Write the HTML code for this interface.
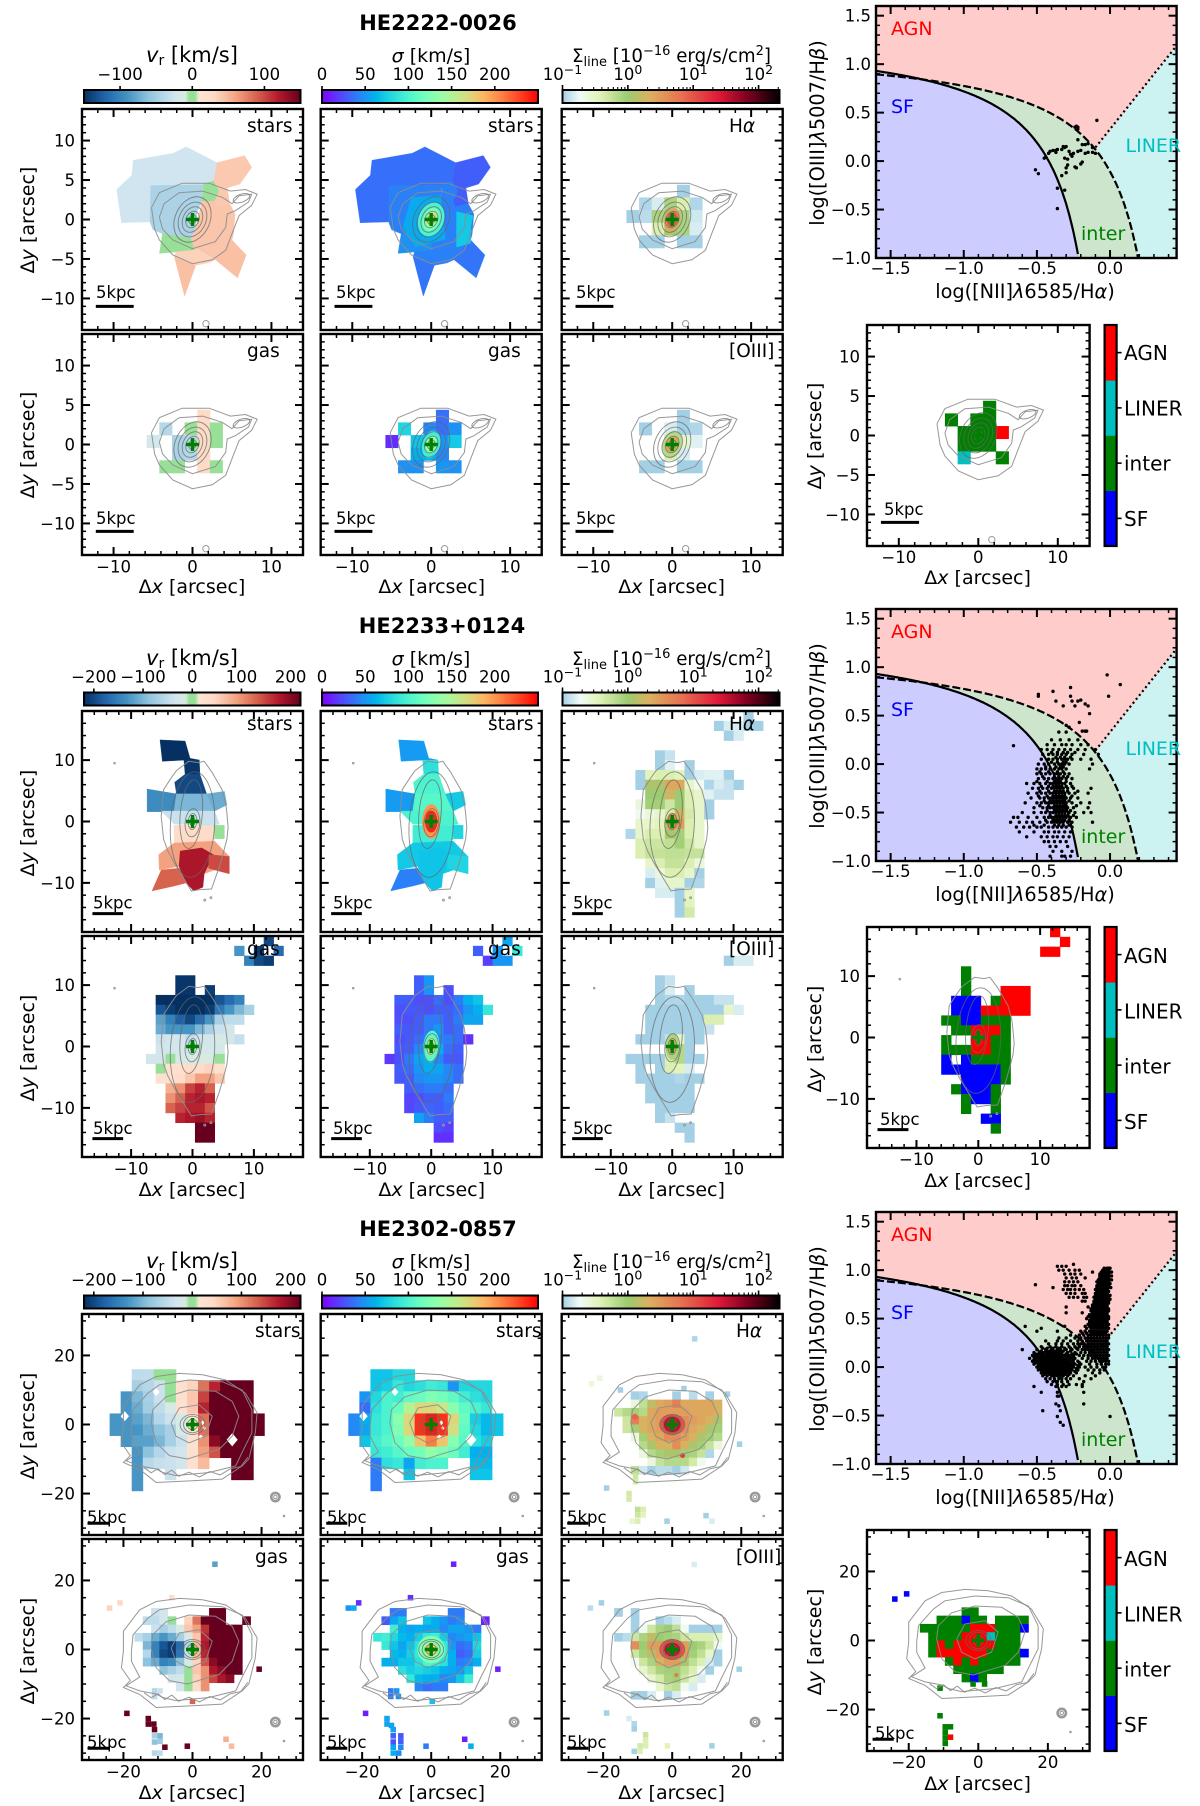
<!DOCTYPE html>
<html lang="en">
<head>
<meta charset="utf-8">
<title>AGN host galaxy kinematic maps</title>
<style>
html,body{margin:0;padding:0;background:#fff;width:1200px;height:1806px;overflow:hidden}
svg{display:block}
text{font-family:"DejaVu Sans","Liberation Sans",sans-serif;fill:#000}
.title{font-size:21px;font-weight:bold;text-anchor:middle}
.cbt{font-size:19px;text-anchor:middle}
.cbv{font-size:21px;text-anchor:middle}
.cbs{font-size:18.2px;text-anchor:middle}
.ax{font-size:19px;text-anchor:middle}
.bax{font-size:19.3px;text-anchor:middle}
.lab{font-size:18.5px}
.kpc{font-size:16.5px}
.cls{font-size:20px}
.reg{font-size:19px}
.tick{font-size:16.5px}
</style>
</head>
<body>
<svg id="figure" xmlns="http://www.w3.org/2000/svg" width="1200" height="1806" viewBox="0 0 1200 1806">
<g id="marks"></g>

<g>
<text class="title" x="438" y="30">HE2222-0026</text>
<text class="cbv" x="192" y="62"><tspan font-style="italic">v</tspan><tspan dy="3" font-size="14">r</tspan><tspan dy="-3"> [km/s]</tspan></text>
<text class="cbt" x="431" y="62"><tspan font-style="italic">σ</tspan> [km/s]</text>
<text class="cbs" x="671.5" y="62">Σ<tspan dy="4" font-size="13">line</tspan><tspan dy="-4"> [10</tspan><tspan dy="-7" font-size="13">−16</tspan><tspan dy="7"> erg/s/cm</tspan><tspan dy="-7" font-size="13">2</tspan><tspan dy="7">]</tspan></text>
<text class="lab" x="247" y="132">stars</text>
<text class="lab" x="488" y="132">stars</text>
<text class="lab" x="729" y="132">H<tspan font-style="italic">α</tspan></text>
<text class="lab" x="247" y="357">gas</text>
<text class="lab" x="488" y="357">gas</text>
<text class="lab" x="729" y="357">[OIII]</text>
<text class="kpc" x="96" y="298">5kpc</text>
<text class="kpc" x="336" y="298">5kpc</text>
<text class="kpc" x="576" y="298">5kpc</text>
<text class="kpc" x="96" y="524">5kpc</text>
<text class="kpc" x="336" y="524">5kpc</text>
<text class="kpc" x="576" y="524">5kpc</text>
<text class="kpc" x="884" y="515">5kpc</text>
<text class="ax" x="192" y="593">Δ<tspan font-style="italic">x</tspan> [arcsec]</text>
<text class="ax" x="431.7" y="593">Δ<tspan font-style="italic">x</tspan> [arcsec]</text>
<text class="ax" x="671.6" y="593">Δ<tspan font-style="italic">x</tspan> [arcsec]</text>
<text class="ax" x="977.6" y="584">Δ<tspan font-style="italic">x</tspan> [arcsec]</text>
<text class="ax" transform="translate(34,220) rotate(-90)">Δ<tspan font-style="italic">y</tspan> [arcsec]</text>
<text class="ax" transform="translate(34,445) rotate(-90)">Δ<tspan font-style="italic">y</tspan> [arcsec]</text>
<text class="ax" transform="translate(821,436) rotate(-90)">Δ<tspan font-style="italic">y</tspan> [arcsec]</text>
<text class="bax" x="1025" y="298">log([NII]<tspan font-style="italic">λ</tspan>6585/H<tspan font-style="italic">α</tspan>)</text>
<text class="bax" transform="translate(824,133) rotate(-90)">log([OIII]<tspan font-style="italic">λ</tspan>5007/H<tspan font-style="italic">β</tspan>)</text>
<text class="reg" x="891" y="35" style="fill:#ff0000">AGN</text>
<text class="reg" x="891" y="113" style="fill:#0000ff">SF</text>
<text class="reg" x="1125.5" y="152" style="fill:#00bfbf">LINER</text>
<text class="reg" x="1081" y="240" style="fill:#008000">inter</text>
<text class="cls" x="1124" y="360">AGN</text>
<text class="cls" x="1124" y="415.5">LINER</text>
<text class="cls" x="1124" y="470.5">inter</text>
<text class="cls" x="1124" y="526">SF</text>
</g>

<g transform="translate(0,603)">
<text class="title" x="442" y="30">HE2233+0124</text>
<text class="cbv" x="192" y="62"><tspan font-style="italic">v</tspan><tspan dy="3" font-size="14">r</tspan><tspan dy="-3"> [km/s]</tspan></text>
<text class="cbt" x="431" y="62"><tspan font-style="italic">σ</tspan> [km/s]</text>
<text class="cbs" x="671.5" y="62">Σ<tspan dy="4" font-size="13">line</tspan><tspan dy="-4"> [10</tspan><tspan dy="-7" font-size="13">−16</tspan><tspan dy="7"> erg/s/cm</tspan><tspan dy="-7" font-size="13">2</tspan><tspan dy="7">]</tspan></text>
<text class="lab" x="247" y="127">stars</text>
<text class="lab" x="488" y="127">stars</text>
<text class="lab" x="729" y="127">H<tspan font-style="italic">α</tspan></text>
<text class="lab" x="247" y="352">gas</text>
<text class="lab" x="488" y="352">gas</text>
<text class="lab" x="729" y="352">[OIII]</text>
<text class="kpc" x="93" y="305.5">5kpc</text>
<text class="kpc" x="333" y="305.5">5kpc</text>
<text class="kpc" x="573" y="305.5">5kpc</text>
<text class="kpc" x="93" y="531">5kpc</text>
<text class="kpc" x="333" y="531">5kpc</text>
<text class="kpc" x="573" y="531">5kpc</text>
<text class="kpc" x="880" y="522">5kpc</text>
<text class="ax" x="192" y="593">Δ<tspan font-style="italic">x</tspan> [arcsec]</text>
<text class="ax" x="431.7" y="593">Δ<tspan font-style="italic">x</tspan> [arcsec]</text>
<text class="ax" x="671.6" y="593">Δ<tspan font-style="italic">x</tspan> [arcsec]</text>
<text class="ax" x="977.6" y="584">Δ<tspan font-style="italic">x</tspan> [arcsec]</text>
<text class="ax" transform="translate(34,220) rotate(-90)">Δ<tspan font-style="italic">y</tspan> [arcsec]</text>
<text class="ax" transform="translate(34,445) rotate(-90)">Δ<tspan font-style="italic">y</tspan> [arcsec]</text>
<text class="ax" transform="translate(821,436) rotate(-90)">Δ<tspan font-style="italic">y</tspan> [arcsec]</text>
<text class="bax" x="1025" y="298">log([NII]<tspan font-style="italic">λ</tspan>6585/H<tspan font-style="italic">α</tspan>)</text>
<text class="bax" transform="translate(824,133) rotate(-90)">log([OIII]<tspan font-style="italic">λ</tspan>5007/H<tspan font-style="italic">β</tspan>)</text>
<text class="reg" x="891" y="35" style="fill:#ff0000">AGN</text>
<text class="reg" x="891" y="113" style="fill:#0000ff">SF</text>
<text class="reg" x="1125.5" y="152" style="fill:#00bfbf">LINER</text>
<text class="reg" x="1081" y="240" style="fill:#008000">inter</text>
<text class="cls" x="1124" y="360">AGN</text>
<text class="cls" x="1124" y="415.5">LINER</text>
<text class="cls" x="1124" y="470.5">inter</text>
<text class="cls" x="1124" y="526">SF</text>
</g>

<g transform="translate(0,1206)">
<text class="title" x="438" y="30">HE2302-0857</text>
<text class="cbv" x="192" y="62"><tspan font-style="italic">v</tspan><tspan dy="3" font-size="14">r</tspan><tspan dy="-3"> [km/s]</tspan></text>
<text class="cbt" x="431" y="62"><tspan font-style="italic">σ</tspan> [km/s]</text>
<text class="cbs" x="671.5" y="62">Σ<tspan dy="4" font-size="13">line</tspan><tspan dy="-4"> [10</tspan><tspan dy="-7" font-size="13">−16</tspan><tspan dy="7"> erg/s/cm</tspan><tspan dy="-7" font-size="13">2</tspan><tspan dy="7">]</tspan></text>
<text class="lab" x="255" y="131">stars</text>
<text class="lab" x="496" y="131">stars</text>
<text class="lab" x="736" y="131">H<tspan font-style="italic">α</tspan></text>
<text class="lab" x="255" y="357">gas</text>
<text class="lab" x="496" y="357">gas</text>
<text class="lab" x="736" y="357">[OIII]</text>
<text class="kpc" x="87" y="317">5kpc</text>
<text class="kpc" x="327" y="317">5kpc</text>
<text class="kpc" x="567" y="317">5kpc</text>
<text class="kpc" x="87" y="542">5kpc</text>
<text class="kpc" x="327" y="542">5kpc</text>
<text class="kpc" x="567" y="542">5kpc</text>
<text class="kpc" x="875" y="533">5kpc</text>
<text class="ax" x="192" y="593">Δ<tspan font-style="italic">x</tspan> [arcsec]</text>
<text class="ax" x="431.7" y="593">Δ<tspan font-style="italic">x</tspan> [arcsec]</text>
<text class="ax" x="671.6" y="593">Δ<tspan font-style="italic">x</tspan> [arcsec]</text>
<text class="ax" x="977.6" y="584">Δ<tspan font-style="italic">x</tspan> [arcsec]</text>
<text class="ax" transform="translate(34,220) rotate(-90)">Δ<tspan font-style="italic">y</tspan> [arcsec]</text>
<text class="ax" transform="translate(34,445) rotate(-90)">Δ<tspan font-style="italic">y</tspan> [arcsec]</text>
<text class="ax" transform="translate(821,436) rotate(-90)">Δ<tspan font-style="italic">y</tspan> [arcsec]</text>
<text class="bax" x="1025" y="298">log([NII]<tspan font-style="italic">λ</tspan>6585/H<tspan font-style="italic">α</tspan>)</text>
<text class="bax" transform="translate(824,133) rotate(-90)">log([OIII]<tspan font-style="italic">λ</tspan>5007/H<tspan font-style="italic">β</tspan>)</text>
<text class="reg" x="891" y="35" style="fill:#ff0000">AGN</text>
<text class="reg" x="891" y="113" style="fill:#0000ff">SF</text>
<text class="reg" x="1125.5" y="152" style="fill:#00bfbf">LINER</text>
<text class="reg" x="1081" y="240" style="fill:#008000">inter</text>
<text class="cls" x="1124" y="360">AGN</text>
<text class="cls" x="1124" y="415.5">LINER</text>
<text class="cls" x="1124" y="470.5">inter</text>
<text class="cls" x="1124" y="526">SF</text>
</g>
</svg>

<script>
/* ---------- tick arrays ---------- */
const velTicksA=[-100,0,100];
const velTicksB=[-200,-100,0,100,200];
const sigmaTicks=[0,50,100,150,200];
const fluxExponents=[-1,0,1,2];
const bptXTicks=[-1.5,-1,-0.5,0];
const bptYTicks=[-1,-0.5,0,0.5,1,1.5];

/* ---------- HE2222-0026 : Voronoi outlines (arcsec, flat x,y) and values ---------- */
const outlines1=[
[-9.6,3.8,-7.7,5.6,-7.5,7.5,-2.4,8.4,-.8,9.2,3.1,7.2,2.7,4.9,1.3,4,-5.3,4.3,-5.4,-.3,-9,-.4],
[-5.3,4.3,1.3,4.4,1.2,2.3,.6,1,.3,-1.5,-.2,-2.4,-3.8,-1.8,-5,-1.3,-5.4,-.3],
[1.4,4.5,2.7,4.9,3.4,3.6,2.8,2.3,1.2,2.3],
[3.1,7.2,6.6,8.1,7.5,6.6,6,4.5,4.4,4,4.7,2,3,1.6,2.8,2.3,3.4,3.6,2.7,4.9],
[1.2,2.3,2.8,2.3,3,1.6,4.7,2,5.4,.7,5.2,-1.8,5,-2.6,2.9,-5.1,.6,-3.7,.2,-3.9,-.2,-2.4,.3,-1.5],
[-2.3,-4.7,.4,-5.8,-1,-9.7],
[2.9,-5.1,5,-2.6,6.8,-4.5,5.7,-7.4],
[-3.8,-1.8,-.2,-2.4,.2,-3.9,-2.1,-4.1,-4.2,-4.3],
[.2,-3.9,.6,-3.7,2.9,-5.1,2,-5.5,.4,-5.8,-2.3,-4.7,-2.1,-4.1]];
const starVel1=[-24,-45,0,40,42,45,45,0,35];
const starSig1=[36,42,42,30,42,38,38,48,42];
const starSigExtra1=[
[72,3.2,1,5.3,.5,5,-1,5,-3,3.2,-3.5],
[58,-2.5,2.8,1.2,3,1.8,-2.5,-2,-3.5,-3.6,-1]];
const starSigCore1=[[0,0,1.6,2.2,20,100],[0,0,1,1.5,20,125],[0,.1,.6,.9,20,170]];
const grid1={x0:-5.8,y0:4.4,d:1.6};
const gasVel1=[[0,4,30],[1,1,-40,null,0,30,0],[2,0,-20,null,-45,-40,30,0],[3,2,-45,-40,30],[4,1,0,0,null,30,0]];
const gasSig1=[[0,4,36],[1,1,78,null,45,36,48],[2,0,14,null,70,70,50,72],[3,2,60,60,45],[4,1,48,48,null,50,48]];
const gasSigCore1=[[0,0,1.1,1.8,15,95],[0,0,.7,1.1,15,135]];
const halpha1=[[0,4,.1],[1,1,.11,.15,.8,.4,.11],[2,0,.1,.12,.8,1.2,.8,.14],[3,2,.4,1.2,.8,.15],[4,1,.1,.1,null,.1,.1]];
const halphaCore1=[[0,0,1,1.5,15,2.5],[0,0,.7,1,15,9]];
const oiii1=[[0,4,.1],[1,1,.1,null,.15,.1,.11],[2,3,.4,.3,.16],[3,3,.4,.15],[4,1,.1,.1,null,.1,.1]];
const oiiiCore1=[[0,0,1.2,1.8,15,.7],[0,0,.8,1.1,15,2.5]];
const classes1=[[0,4,1],[1,1,1,null,1,1],[2,2,1,1,1,3],[3,2,1,1,1],[4,2,2,null,null,1]];
const contoursPoly1=[
[-5.2,1.5,-4.2,3.4,-1.3,4.6,2.1,4.6,4.8,3.6,6.7,3.8,8.2,3.2,7.5,1.8,5.9,.5,5,-1.8,4.2,-3.9,2.5,-5.1,0,-5.6,-2.5,-4.5,-4.2,-2.6,-4.8,-1.2,-5.2,1.5],
[-4.2,.3,-3.6,2,-1.7,3.4,1.3,3.6,3.8,2.8,5,2,5.9,3,7.5,3.2,7.1,2.2,5.4,1.1,4.4,.7,4.2,-1,2.9,-2.8,0,-3.7,-2.5,-2.6,-3.8,-1.2,-4.2,.3]];
const contoursEll1=[[0,0,2.2,3,25],[0,0,1.7,2.3,25],[0,0,1.2,1.7,25],[0,0,.8,1.1,25],[0,0,.45,.6,25],[6.2,2.7,1.1,.5,-20]];
const rings1=[[1.7,-13.2,.4,1]];

/* ---------- HE2233+0124 ---------- */
const outlines2=[
[-5.3,13.3,-1.2,13.1,-.4,10.3,1.1,10,-1.4,10,-4.9,9.8],
[-1.4,10,1.1,10,1.2,7.7,-1.2,7.7],
[-1.2,7.7,1.2,7.7,2.3,4.5,-2.6,4.5,-2.9,6.4],
[-7.4,5.3,-2.6,4.5,-3,1.6,-7.4,1.6],
[-2.6,4.5,2.3,4.5,3.6,1.7,-3,1.6],
[2.3,4.5,5.2,4.9,5.6,2.7,3.6,1.7],
[-5.1,1.7,3.6,1.7,4.4,-.4,2.7,-.7,-3,-.4],
[3.4,-.6,5.2,-.6,5.2,-2.8,3.6,-2.8],
[-3,-.6,3.4,-.7,3.6,-2.9,1.5,-4.2,-3,-3.5],
[-5.5,-5.4,-3,-3.5,3.6,-3.2,6,-5.7,6,-8.5,3.6,-7.9,1.9,-8.5,-2.2,-7.3,-5.4,-7.9],
[-2,-4.8,1.5,-4.3,3.4,-5.4,1.9,-8.5,1.7,-10.7,.2,-11.3,-1.2,-9.8,-2.2,-7.3],
[-6.6,-11.3,-5.1,-7.9,-2.2,-7.6,-1,-10,-3,-10.5],
[2.7,-5.4,6,-5.7,6,-8.5,2.6,-7.6]];
const starVel2=[-220,-215,-200,-140,-100,-110,-40,0,40,90,180,130,145];
const starSig2=[52,85,100,52,105,72,100,78,95,72,70,42,78];
const starSigCore2=[[0,0,1.5,2.8,0,200],[0,0,1,1.8,0,240]];
const grid2={x0:-7.6,y0:11.6,d:1.6};
const gasVel2=[
[-4,12,-200],[-3,9,-130,null,-210,null,-170],[-2,10,-150,-200,-210],
[0,3,-215,-215],[1,3,-215,-215,null,-210],
[2,1,-220,-220,-220,-220,-220,-220,-190,-170,-150],
[3,1,-190,-210,-220,-220,-220,-210,-160,-130,-100,-70],
[4,1,-120,-150,-180,-200,-170,-130,-70,-50,-50],
[5,1,-110,-130,-130,-130,-100,-70,-40,-30],
[6,1,-40,-30,-30,-50,-30,-30,-20,-25,-45],
[7,1,-30,-30,-25,-30,-25,-25,-25],
[8,0,-30,-30,0,-20,-20,-15,-15,0],
[9,1,0,30,30,40,40,50,30],
[10,1,25,30,40,60,90,90,60],
[11,2,80,100,150,170,130],
[12,2,100,130,170,180,170],
[13,2,130,150,170,170,140],
[14,3,170,180,190,170],
[15,5,220,220],[16,5,220,220]];
const gasSig2=[
[-4,12,55],[-3,9,30,null,50,null,90],[-2,10,20,50,50],
[0,3,30,50],[1,3,30,50,null,25],
[2,1,30,30,25,25,35,25,40,60,70],
[3,1,25,28,28,25,30,30,35,50,60,90],
[4,1,25,25,30,40,40,30,40,55,55],
[5,1,30,28,30,40,50,30,35],
[6,1,25,28,35,45,45,40,35,15],
[7,1,28,30,45,60,60,35,30],
[8,0,18,25,40,55,60,45,28,28],
[9,1,30,35,50,60,55,45,35],
[10,1,28,30,45,50,50,45,35],
[11,2,30,35,40,40,35],
[12,2,22,25,30,30,40],
[13,2,22,28,32,30,35],
[14,3,55,40,30,30],
[15,5,25,20],[16,5,15,15]];
const gasSigCore2=[[0,0,1.3,2.6,5,105],[0,0,.8,1.5,5,150]];
const halpha2=[
[-4,12,.1],[-3,9,.1,.15,.15,.1,.1],[-2,10,.1,.15],
[0,3,.1,.13],[1,3,.1,.16,null,.1],
[2,1,.1,.35,.4,.4,.35,.1,.15,.16,.16,.1],
[3,1,.1,1.2,1.2,2.5,2.5,.3,.2,.11,.15,.13,.1],
[4,2,1,1,1.8,1,.4,.3,.16,.13,.13],
[5,1,.25,.9,.9,.5,1,.4,.3,.1],
[6,1,.2,.25,.3,.45,1.8,.45,.3,.1],
[7,1,.3,.3,.35,1.2,3,.4,.3],
[8,0,.11,.3,.4,.4,1.2,.9,.4,.3],
[9,1,.4,.5,.5,.6,.9,.5,.3],
[10,1,.4,.55,.55,.6,.6,.55,.55],
[11,2,.3,.4,.55,.55,.4,.25],
[12,2,.15,.25,.4,.4,.3,.1],
[13,2,.1,.16,.3,.3,.1,.11],
[14,3,.15,.15,.1,.3],
[15,5,.1,.35],[16,5,.1,.45]];
const halphaCore2=[[0,0,.9,1.4,0,4],[0,0,.45,.8,0,9]];
const oiii2=[
[-2,10,.1,.15,.15],
[0,3,.1,.13],[1,3,.1,.15,null,.1],
[2,3,.1,.11,.11,.1,.1,.1,.13,.13],
[3,2,.1,.1,.1,.1,.1,.1,.1,.1,.3,.15],
[4,2,.1,.1,.1,.1,.1,.1,.4,.4],
[5,2,.1,.1,.1,.1,.1,.1,.13],
[6,1,.1,.1,.1,.13,.3,.1,.1],
[7,4,.3,.7,.1],
[8,0,.1,.1,.1,.1,.4,.7,.1,.1],
[9,1,.1,null,.1,.4,.35,.15],
[10,1,.1,.1,.1,.1,.11,.1,.1],
[11,2,.1,.1,.1,.1,.1],
[12,2,.1,.1,.1,.1,.1],
[13,3,.1,.1,.1,.1],
[14,3,.1,.13],
[15,5,.1,.1],[16,6,.1]];
const oiiiCore2=[[0,0,1.1,2.2,0,.8],[0,0,.7,1.3,0,2]];
const classes2=[
[-4,12,3],[-3,13,3],[-2,11,3,3],
[0,3,1],[1,3,1],
[2,3,1,null,null,null,3,3,3],
[3,2,0,0,0,null,1,3,3,3],
[4,2,0,0,0,3,3,3,3,3],
[5,1,1,1,0,0,1,1,1],
[6,2,1,1,3,3,3,1],
[7,1,1,null,null,3,3,1,1],
[8,1,1,1,1,3,3,1,1],
[9,1,0,null,0,1,1,1,1],
[10,1,0,0,0,0,0,0,1],
[11,3,0,0,0,0,1],
[12,2,1,0,0,0,1],
[13,3,1,0,0,1],
[14,3,1,null,null,1],
[15,5,0,0],[16,6,1]];
const contoursPoly2=[
[-5.1,.8,-4.7,5.2,-3.4,7.2,-2.6,8.3,-1.4,9.2,-.6,9.8,.9,9.6,1.9,9.8,3.2,8,4.8,5.2,5.4,3,5.6,1.4,5.8,-1,5.6,-2.9,5,-5.2,4.4,-7.3,3.8,-9,3.1,-11,1.2,-11.1,-.2,-11.3,-1.6,-9,-3,-6.7,-4,-4.8,-4.7,-2.9,-5.1,.8]];
const contoursEll2=[[0,-.5,3.6,8.6,3],[-.2,1.2,1.8,5.6,5],[0,-.2,1.2,2.3,5],[0,0,.7,1.3,5],[0,0,.4,.7,5]];
const rings2=[[-12.7,9.5,.12,1],[3,-12.4,.15,1],[2,-12.8,.15,1]];

/* ---------- HE2302-0857 ---------- */
const starGrid3={x0:-24,y0:16,d:3.2};
const starVel3=[
[0,2,-50,-50,0,0],
[1,2,-70,-60,-40,0,30,50,120,170,220,220,220],
[2,1,-130,-100,-70,-40,0,30,60,150,220,220,220,220],
[3,1,-130,-110,-75,-50,-20,25,60,170,220,220,220,220],
[4,0,-130,-130,-120,-100,-60,-40,-20,20,120,220,220,220,220,220],
[5,0,-130,-130,-130,-110,-90,-70,-20,20,120,220,220,220,220,220],
[6,1,-130,-120,-120,-100,-70,-40,25,100,200,220,220,220],
[7,2,-130,-90,-60,-40,-30,25,90,140,220,220,220],
[8,2,-130,-55,-45,-40,-30,30,70,null,null,220,220],
[9,2,-130,null,null,-40,null,null,null,null,null,220,220],
[10,2,-130]];
const starSig3=[
[0,2,70,70,80,80],
[1,2,70,75,90,80,85,95,90,50,80,80,80],
[2,1,50,80,100,95,110,115,125,120,110,95,85,80],
[3,1,35,85,100,115,150,170,170,160,130,110,100,90],
[4,0,45,60,90,100,130,170,235,245,235,170,115,75,65,70],
[5,0,45,55,90,100,125,170,235,245,235,165,110,80,65,70],
[6,1,70,95,105,115,135,180,210,180,130,105,85,75],
[7,2,90,95,105,115,120,135,125,115,95,60,60],
[8,2,40,85,90,55,95,100,100,null,null,65,65],
[9,2,40,null,null,70,null,null,null,null,null,70,70],
[10,2,40]];
const starHoles3=[[11.5,-4.4,1.6],[2.9,.5,.6],[3.4,-1,.5],[2.4,-3.6,.6],[-19.6,2.4,1.2],[-10.5,9.4,1]];
const grid3={x0:-19.2,y0:12,d:2.4};
const gasVel3=[
[0,3,-40,-30,null,null,null,null,null,220,220],
[1,2,-50,-50,-30,0,null,50,120,220,220,220,null,null,220],
[2,3,-40,-70,-50,-20,60,90,160,220,220,220,220],
[3,1,-50,-70,-110,-130,-110,-70,-20,60,170,220,220,220,220],
[4,2,-100,-150,-190,-210,-170,-60,70,180,220,220,220,220],
[5,2,-60,-150,-200,-210,-160,-40,70,170,220,220,220,220],
[6,2,-90,-110,-150,-140,-90,-20,50,140,200,220,220,220],
[7,4,-90,-70,-50,0,60,100,180,200,220,220],
[8,5,-30,-25,0,50,100,150,180,200],
[9,6,-30,0,40,100]];
const gasVelSpots3=[[6.5,24.7,-120],[-24,12,50],[-21,13.5,45],[-6,15,35],[16,8.7,220],[19.3,-5.7,220],[-11,-12,-60],[-9.4,-12,-40],[-11,-13.6,-50],[0,-15,130],[-19,-18.5,220],[-12.8,-20,220],[-12.8,-21.6,220],[-11.2,-21.6,220],[-11,-23.2,220],[-11,-25,-70],[-9.4,-25,-100],[-9.4,-26.6,-80],[-11,-26.8,-90],[-8,-28.3,220],[-11,-30,-60],[-9.4,-30,-50],[-1.5,-28,220],[9.7,-26,80],[11.3,-28,70]];
const gasSig3=[
[0,3,40,40,null,null,null,null,null,40,40],
[1,2,30,55,70,null,null,70,60,50,40,45,null,null,10],
[2,3,95,60,55,60,55,60,45,55,55,50,40],
[3,1,90,95,80,65,60,75,90,95,75,45,50,55,70],
[4,2,90,70,55,70,85,150,170,90,50,35,40,80],
[5,3,65,60,75,90,150,170,95,60,30,35,75],
[6,2,60,60,70,70,85,100,95,85,60,40,45,60],
[7,4,85,75,80,75,70,60,55,50,70],
[8,5,90,65,60,60,45,50,70,95],
[9,6,45,35,40,40]];
const gasSigSpots3=[[6.5,24.7,10],[-6,15,15],[-21,13.5,15],[-24,12,50],[-22.4,12,60],[16,8.7,10],[19.3,-5.7,10],[-11.7,-12,40],[-10,-12,50],[-11.7,-13.6,40],[-9.5,-13.6,48],[.3,-15,70],[-19,-18.5,10],[-12.8,-20,55],[-12.8,-21.6,55],[-11.5,-22,55],[-11,-23.2,55],[-11,-25,30],[-8.8,-25,28],[-8.8,-26.6,30],[-11,-26.8,25],[-8.8,-28.3,45],[-11,-28.3,58],[-11,-30,60],[-9.4,-30,45],[-1.5,-28,40],[9.7,-26,10],[11.5,-28,60]];
const gasSigCore3=[[0,0,4,4,0,125],[0,0,2,2,0,170]];
const halpha3=[
[1,3,.1,.11,null,null,null,.1,null,.12,null,.1],
[2,3,.25,.6,1.5,2.5,3,5,2.5,2.5,2.5,2.5,2],
[3,1,.5,.7,.9,.7,2.5,3,3,3,3,2.5,2.5,2.5,2],
[4,2,.5,5,2,2.5,3,15,20,4,3,2.5,2,1.2],
[5,2,.5,.9,2,2.5,3,25,30,4,2.5,2,1.2,.9],
[6,3,.25,.9,2,2.5,4,4,3,2,1.2,.9,.7],
[7,4,.7,1.2,2,2,4,2,1.2,.9,.55,.25],
[8,4,.25,.7,.9,1.2,1.2,.9,.8,.55,.11],
[9,5,.25,.55,.7,.7,.7,.45,.2],
[10,3,.6,.14,.1,.12,.12,.1,.14]];
const halphaSpots3=[[6.5,24.8,.11],[-23.4,11.8,.25],[-21,13.4,.25],[16,8.8,.1],[-15,10,.1],[3.4,10.4,.1],[19.5,-5.7,.1],[-19,-18.4,.1],[-12.5,-20,.45],[-12.5,-21.6,.45],[-10,-24.6,.6],[-8.4,-24.6,.4],[-10,-26.2,.5],[-8.4,-26.2,.35],[-10,-28,.4],[-11.6,-28,.3],[-1.5,-28,.1],[9.8,-26.4,.1],[11.5,-28,.15],[-10.6,-15,.5],[-10.6,-16.6,.45]];
const halphaCore3=[[0,0,3.6,3,0,10],[0,0,2.4,2.2,0,35],[-10.8,2.2,.9,.9,0,8],[3,-9,.7,.7,0,15]];
const oiii3=[
[0,1,.1,null,.1],
[1,3,.1,null,null,.1,.12,.15],
[2,3,.1,.2,.5,.8,1,.6,.2,.1,.1,.1,.1],
[3,1,.1,.12,.5,.8,1.5,1,.9,.8,.5,.4,.4,.4,.3],
[4,3,4,1,3,3,15,20,3,1,.8,.5,.2],
[5,3,.5,.9,1.5,3,30,30,3,.9,.6,.3,.1],
[6,3,.2,.5,.8,2,3,3,1.2,.6,.4,.15,.1],
[7,4,.3,.5,.8,.9,.9,.6,.4,.2,.1],
[8,5,.3,.45,.8,.9,.5,.3,.15],
[9,6,.3,.5,.6,.2,.15],
[10,3,.1,.1,.15,null,.1,.15]];
const oiiiSpots3=[[6.4,24.6,.15],[-23.7,12,.12],[-20.5,13.5,.1],[19.4,-5.7,.1],[-19,-18.4,.1],[-12.5,-20,.15],[-11,-21.5,.11],[-11,-23,.1],[-7.7,-24.7,.5],[-7.7,-26.3,.4],[-9.3,-27.9,.45],[-7.7,-27.9,.4],[-9.3,-29.5,.4],[-11,-29.5,.1],[-1.4,-27.9,.35],[11.5,-27.9,.1]];
const oiiiCore3=[[0,0,3.6,3,0,10],[0,0,2.3,2,0,35],[1.2,-7.4,.6,.6,0,6]];
const classes3=[
[1,6,1,1],
[2,3,1,1,1,0,1,1,null,1,1,1,1],
[3,1,1,1,1,1,1,1,3,3,3,1,1,1,0],
[4,2,1,1,1,1,3,3,3,2,1,1,1],
[5,2,1,3,1,3,3,3,3,3,1,1,1],
[6,2,1,3,3,3,3,3,3,1,1,1,1,0],
[7,4,1,3,1,3,1,1,1,1,1],
[8,5,1,1,1,1,1,1],
[9,6,1,0,1]];
const classSpots3=[[-24,12,0],[-20.6,13.5,0],[-11,-13.8,1],[-11,-21.8,1],[-9.5,-25,1],[-9.5,-26.6,1],[-9.5,-28.2,1],[-9.5,-29.8,1],[-8,-25,1],[-8,-28,3],[-1.5,-12.6,1],[1.8,-12.6,1]];
const contoursPoly3=[
[-20,-.5,-20,5.3,-15.3,11.5,-10.5,13.9,-3.8,14.8,2.9,14.4,9.6,12.9,15.3,9.1,18.7,3.4,18.2,-2.4,16.3,-10,14.4,-12,8.6,-15.8,0,-16.3,-10.5,-16.8,-12.4,-15.3,-15.3,-13,-20,-11,-18,-9,-20.6,-5.3,-20,-.5],
[-17.7,-.5,-17.2,4.3,-12.9,9.1,-9.6,11.5,-1,12.9,8.6,12.4,14.4,10,17.2,4.3,17.2,-2.4,14.4,-8,12.5,-12,4.8,-13.9,-4.8,-14.8,-8.6,-13.9,-10.5,-12.9,-15.3,-12,-19.2,-10.5,-15.3,-8,-17.7,-3.4,-17.7,-.5],
[-12,.5,-11.5,4.3,-7.7,8,-1,10,6.7,9.6,11.5,6.7,13.4,2.4,11.5,-3.4,7.7,-7.2,2.9,-8.6,-1.4,-10,-6.7,-9,-10.5,-5.3,-12,.5],
[-6.2,.5,-3.8,4.8,1.9,5.7,5.7,2.4,3.8,-3.4,-1,-5.3,-4.8,-3.4,-6.2,.5],
[-14,-12.5,-12,-14,-10,-12.8,-8,-14.5,-6,-13.2,-4,-15,-1,-13.8,2,-15.2,5,-13.6,8,-14.6,11,-12.8,14,-12.2,16,-9.5]];
const contoursEll3=[[0,0,3.6,2.9,0],[0,0,2.6,2.4,0],[0,0,1.5,1.5,0],[0,0,.8,.8,0]];
const rings3=[[24,-21,1.2,2.6],[24,-21,.5,1],[26.5,-26.5,.12,1]];

/* ---------- BPT point rows: first number log[OIII]/Hb, remaining numbers log[NII]/Ha ---------- */
const bptRows1=[
[.42,-.09],[.36,-.23],[.35,-.24,-.22],[.33,-.22],[.22,-.22],[.18,-.15],[.17,-.19,-.17],[.15,-.32,-.3],[.14,-.31,-.12],
[.12,-.36,-.33],[.11,-.39,-.37,-.2],[.1,-.41,-.28,-.22],[.09,-.37,-.15,-.12],[.08,-.42,-.25,-.17,-.1],[.07,-.27],[.05,-.26],[.04,-.44],[.03,-.45,-.31],[.02,-.29],
[-.01,-.19],[-.03,-.2],[-.04,-.29],[-.06,-.24],[-.07,-.3,-.23],[-.09,-.51],[-.12,-.3],[-.13,-.49],[-.15,-.33],[-.28,-.36],[-.3,-.31],[-.49,-.36]];
const bptRows2=[
[.92,-.02],[.82,.07],[.79,-.27],[.75,-.39],[.72,-.49],[.7,-.49,-.27,-.01],[.66,-.2],[.65,-.37,-.26,-.22],[.62,-.17],[.6,-.32,-.24,-.15],[.52,-.14],[.43,-.21],[.4,-.3],[.38,-.28],[.34,-.19,-.17,-.16],
[.33,-.35,-.3],[.25,-.4,-.34,-.28,-.22],[.2,-.43,-.38,-.33,-.3,-.26,-.2,-.15],[.19,-.66],[.15,-.47,-.43,-.39,-.35,-.31,-.27,-.22,-.17,-.1],[.12,-.4,-.36,-.32,-.29,-.24],[.1,-.46,-.42,-.39,-.36,-.33,-.3,-.26,-.18,-.08],
[.07,-.37,-.34,-.31,-.27],[.05,-.47,-.42,-.39,-.36,-.33,-.31,-.29,-.26,-.2,-.13],[.02,-.4,-.36,-.32,-.3],[0,-.49,-.45,-.42,-.38,-.35,-.33,-.31,-.28,-.12],[-.03,-.44,-.37,-.34,-.32],[-.05,-.5,-.47,-.44,-.41,-.38,-.35,-.33,-.3,-.14],
[-.08,-.48,-.42,-.36,-.32],[-.1,-.5,-.47,-.44,-.41,-.38,-.36,-.34,-.31,-.28],[-.13,-.46,-.38,-.35,-.32,-.29],[-.15,-.49,-.45,-.42,-.39,-.37,-.35,-.33,-.3,-.26],[-.18,-.5,-.43,-.38,-.36,-.34,-.3],[-.2,-.57,-.52,-.48,-.44,-.41,-.39,-.37,-.35,-.33,-.31,-.27],
[-.23,-.47,-.42,-.39,-.37,-.35,-.33,-.3,-.26],[-.25,-.53,-.49,-.46,-.43,-.4,-.38,-.36,-.34,-.32,-.29,-.25,-.13],[-.28,-.48,-.42,-.38,-.36,-.34,-.32,-.29,-.22],[-.3,-.56,-.5,-.47,-.44,-.41,-.39,-.37,-.35,-.33,-.31,-.28,-.24,-.15],
[-.33,-.49,-.43,-.39,-.37,-.35,-.33,-.31,-.26],[-.35,-.54,-.48,-.45,-.42,-.4,-.38,-.36,-.34,-.32,-.3,-.27,-.22],[-.38,-.45,-.41,-.39,-.37,-.35,-.33,-.31,-.28],[-.4,-.58,-.5,-.47,-.44,-.42,-.4,-.38,-.36,-.34,-.32,-.3,-.26,-.2,-.14],
[-.43,-.48,-.42,-.38,-.36,-.34,-.32,-.3,-.23],[-.45,-.52,-.46,-.43,-.41,-.39,-.37,-.35,-.33,-.31,-.29,-.25,-.15],[-.48,-.43,-.38,-.36,-.34,-.32,-.3,-.27],[-.5,-.6,-.52,-.47,-.44,-.41,-.39,-.37,-.35,-.33,-.31,-.28,-.24,-.18,-.13],
[-.53,-.41,-.37,-.35,-.33,-.31,-.29,-.25],[-.55,-.66,-.63,-.56,-.5,-.45,-.42,-.4,-.38,-.36,-.34,-.32,-.3,-.27,-.23],[-.58,-.44,-.39,-.37,-.35,-.33,-.31,-.28],[-.6,-.68,-.62,-.57,-.53,-.48,-.43,-.4,-.38,-.36,-.34,-.32,-.29,-.26,-.12],
[-.63,-.52,-.45,-.38,-.35,-.32,-.28],[-.65,-.64,-.59,-.55,-.5,-.47,-.42,-.39,-.36,-.33,-.3,-.26],[-.7,-.62,-.52,-.45,-.42,-.38,-.35,-.31,-.27],[-.75,-.57,-.47,-.43,-.39,-.36,-.32,-.28],
[-.8,-.45,-.42,-.38,-.34,-.3],[-.85,-.41,-.37,-.29],[-.9,-.39,-.33,-.26],[-.95,-.41,-.33,-.31,-.27]];
const bptRows3=[
[1.06,-.25],[1.04,-.36,-.33,-.3],[1.02,-.04,-.02,-.01,0],[1,-.35,-.32,-.28,-.24,-.21,-.05,-.03,-.01],[.98,-.12,-.06,-.04,-.02,0,.01],[.96,-.31,-.27,-.24,-.2,-.07,-.05,-.03,-.01],[.94,-.07,-.05,-.03,-.01,.01],
[.92,-.3,-.26,-.23,-.17,-.07,-.05,-.03,-.01],[.9,-.08,-.06,-.04,-.02,0,.01],[.88,-.31,-.28,-.25,-.22,-.09,-.07,-.05,-.03,-.01],[.86,-.08,-.06,-.04,-.02,0],[.85,-.51],[.84,-.31,-.29,-.26,-.24,-.2,-.09,-.07,-.05,-.03,-.01],[.82,-.39,-.09,-.07,-.05,-.03,-.01,.005],
[.8,-.32,-.29,-.27,-.24,-.21,-.18,-.1,-.08,-.06,-.04,-.02],[.78,-.09,-.07,-.05,-.03,-.01],[.76,-.3,-.27,-.24,-.19,-.17,-.1,-.08,-.06,-.04,-.02],[.74,-.1,-.08,-.06,-.04,-.02,0],[.72,-.28,-.25,-.22,-.18,-.16,-.11,-.09,-.07,-.05,-.03,-.01],[.7,-.1,-.08,-.06,-.04,-.02,0],
[.68,-.19,-.17,-.11,-.09,-.07,-.05,-.03,-.01],[.66,-.11,-.09,-.07,-.05,-.03,-.01],[.64,-.12,-.1,-.08,-.06,-.04,-.02],[.62,-.3,-.15,-.12,-.1,-.08,-.06,-.04,-.02],[.6,-.13,-.11,-.09,-.07,-.05,-.03,-.01],[.58,-.13,-.11,-.09,-.07,-.05,-.03,-.01],[.56,-.3,-.19,-.12,-.1,-.08,-.06,-.04,-.02],[.54,-.14,-.12,-.1,-.08,-.06,-.04,-.02],
[.52,-.15,-.13,-.11,-.09,-.07,-.05,-.03,-.01],[.5,-.16,-.13,-.11,-.09,-.07,-.05,-.03,-.01],[.48,-.14,-.12,-.1,-.08,-.06,-.04,-.02],[.46,-.14,-.12,-.1,-.08,-.06,-.04,-.02],[.44,-.15,-.13,-.11,-.09,-.07,-.05,-.03,-.01],[.42,-.31,-.58,-.17,-.14,-.12,-.1,-.08,-.06,-.04,-.02],[.4,-.47,-.16,-.13,-.11,-.09,-.07,-.05,-.03,-.01],
[.37,-.5,-.36,-.2,-.17,-.14,-.12,-.1,-.08,-.06,-.04,-.02],[.35,-.19,-.16,-.13,-.11,-.09,-.07,-.05,-.03],[.33,-.27,-.21,-.18,-.15,-.13,-.11,-.09,-.07,-.05,-.03,-.01],[.3,-.35,-.3,-.24,-.2,-.17,-.15,-.13,-.11,-.09,-.07,-.05,-.03,-.01],
[.27,-.44,-.36,-.32,-.27,-.22,-.19,-.16,-.14,-.12,-.1,-.08,-.06,-.04,-.02],[.24,-.42,-.37,-.33,-.29,-.25,-.22,-.2,-.18,-.15,-.13,-.11,-.09,-.07,-.05,-.03,-.01],
[.21,-.47,-.41,-.37,-.33,-.28,-.24,-.21,-.18,-.16,-.14,-.12,-.1,-.08,-.06,-.04,-.02],[.195,-.46,-.43,-.39,-.35,-.31,-.27,-.23],
[.18,-.6,-.5,-.44,-.4,-.36,-.34,-.3,-.26,-.22,-.19,-.17,-.15,-.13,-.11,-.09,-.07,-.05,-.03,-.01],[.165,-.47,-.43,-.41,-.38,-.35,-.32,-.27],[.15,-.52,-.48,-.45,-.42,-.39,-.37,-.35,-.33,-.29,-.24,-.2,-.17,-.14,-.12,-.1,-.08,-.06,-.04,-.02],
[.135,-.51,-.49,-.46,-.43,-.41,-.39,-.37,-.35,-.33,-.3,-.26,-.23],[.12,-.53,-.5,-.47,-.44,-.42,-.4,-.38,-.36,-.34,-.31,-.28,-.25,-.21,-.18,-.15,-.13,-.11,-.09,-.07,-.05,-.03,-.01],[.105,-.52,-.49,-.47,-.45,-.43,-.41,-.39,-.37,-.35,-.33,-.29,-.26],[.09,-.55,-.51,-.48,-.46,-.44,-.42,-.4,-.38,-.36,-.34,-.32,-.3,-.27,-.24,-.19,-.15,-.12,-.1,-.08,-.06,-.04,-.02],
[.075,-.52,-.49,-.47,-.45,-.43,-.41,-.39,-.37,-.35,-.33,-.31,-.28,-.25],[.06,-.53,-.5,-.47,-.45,-.43,-.41,-.39,-.37,-.35,-.33,-.31,-.29,-.26,-.22,-.16,-.13,-.1,-.07,-.05,-.03,-.01],[.045,-.51,-.48,-.46,-.44,-.42,-.4,-.38,-.36,-.34,-.32,-.3,-.28,-.25,-.21],[.03,-.52,-.49,-.47,-.45,-.43,-.41,-.39,-.37,-.35,-.33,-.31,-.29,-.27,-.24,-.2,-.14,-.09,-.06,-.03,-.01],
[.015,-.49,-.46,-.44,-.42,-.4,-.38,-.36,-.34,-.32,-.3,-.28,-.26,-.22],[0,-.5,-.48,-.46,-.44,-.42,-.4,-.38,-.36,-.34,-.32,-.3,-.28,-.25,-.21,-.17,-.13,-.09,-.05,-.03],[-.015,-.48,-.45,-.43,-.41,-.39,-.37,-.35,-.33,-.31,-.29,-.27,-.23],[-.03,-.49,-.47,-.45,-.43,-.41,-.39,-.37,-.35,-.33,-.31,-.29,-.26,-.22,-.15,-.11,-.07,-.04],
[-.045,-.46,-.44,-.42,-.4,-.38,-.36,-.34,-.32,-.3,-.28,-.24],[-.06,-.47,-.44,-.42,-.4,-.38,-.36,-.34,-.32,-.3,-.27,-.23,-.12,-.07],[-.075,-.45,-.41,-.39,-.37,-.35,-.33,-.31,-.28],[-.09,-.46,-.43,-.4,-.38,-.36,-.34,-.32,-.29,-.25,-.17,-.1],[-.12,-.44,-.41,-.38,-.35,-.33,-.3,-.27,-.21,-.13],
[-.15,-.43,-.39,-.36,-.33,-.29,-.18],[-.18,-.4,-.36,-.32,-.28,-.23,-.19],[-.2,-.52,-.37,-.33,-.3,-.19],[-.26,-.47,-.36,-.18],[-.3,-.36,-.35],[-.38,-.37,-.18],[-.4,-.35],[-.45,-.46,-.34],[-.51,-.36,0],[-.57,-.34],[-.6,-.32]];

/* ---------- drawing helpers ---------- */
const NS='http://www.w3.org/2000/svg';
const root=document.getElementById('marks');
function mk(tag,attrs,name,parent){
  const el=document.createElementNS(NS,tag);
  for(const k in attrs) el.setAttribute(k,attrs[k]);
  
  
  (parent||root).appendChild(el);
  return el;
}
function hex2(c){return [parseInt(c.slice(1,3),16),parseInt(c.slice(3,5),16),parseInt(c.slice(5,7),16)];}
function ramp(stops,t){
  t=Math.max(0,Math.min(1,t));
  for(let i=1;i<stops.length;i++){
    if(t<=stops[i][0]){
      const a=stops[i-1],b=stops[i],f=(t-a[0])/(b[0]-a[0]||1),ca=hex2(a[1]),cb=hex2(b[1]);
      return 'rgb('+ca.map((v,j)=>Math.round(v+(cb[j]-v)*f)).join(',')+')';
    }
  }
  return stops[stops.length-1][1];
}
const velStops=[[0,'#053061'],[.1,'#2166ac'],[.2,'#4393c3'],[.3,'#92c5de'],[.42,'#d1e5f0'],[.47,'#d8ebe0'],[.485,'#98e098'],[.515,'#98e098'],[.53,'#fde5d5'],[.6,'#fddbc7'],[.7,'#f4a582'],[.8,'#d6604d'],[.9,'#b2182b'],[1,'#67001f']];
const fluxStops=[[0,'#a4d0e6'],[.08,'#f2fbf8'],[.17,'#e2f2b8'],[.3,'#9ccb70'],[.4,'#dcb060'],[.55,'#e87050'],[.72,'#e01838'],[.85,'#800020'],[1,'#000000']];
function velT(t){return ramp(velStops,t);}
function rainbowT(t){
  t=Math.max(0,Math.min(1,t));
  const r=Math.abs(2*t-.5),g=Math.sin(Math.PI*t),b=Math.cos(Math.PI*t/2);
  return 'rgb('+[r,g,b].map(v=>Math.round(255*Math.min(1,v))).join(',')+')';
}
function fluxT(t){return ramp(fluxStops,t);}
const FLUX_MIN=-1,FLUX_SPAN=3.32;
const velMap=R=>v=>velT((v+R)/(2*R));
const sigMap=v=>rainbowT(v/250);
const fluxMap=v=>fluxT((Math.log10(v)-FLUX_MIN)/FLUX_SPAN);
const classColors=['#0000ff','#008000','#00bfbf','#ff0000'];
const classMap=v=>classColors[v];

/* ---------- layout ---------- */
const COLS=[82,320.7,561.7],ROWS=[109,334],PW=221,PH=221;
const MAPBOX={x:867,y:325,w:222.6,h:221};
const BPTBOX={x:876,y:6,w:300.6,h:252};
const CB={v:[84,216.5],s:[322,216],f:[562.5,217]};
const CLASSBAR_X=1104.6;
const OFFS=[0,602,1205];
const BPTOFFS=[0,603,1206];
const CBOFFS=[0,602.5,1205.5];

function fmt(v){return (v<0?'−':'')+Math.abs(v);}
function fmt1(v){return (v<0?'−':'')+Math.abs(v).toFixed(1);}

function frame(box,sx,sy,xMaj,yMaj,xMin,yMin,tl,g){
  const tick=(x1,y1,x2,y2,w)=>mk('line',{x1,y1,x2,y2,stroke:'#000','stroke-width':w},'axis-tick',g);
  xMaj.forEach(v=>{const x=sx(v);tick(x,box.y,x,box.y+tl,2);tick(x,box.y+box.h,x,box.y+box.h-tl,2);});
  xMin.forEach(v=>{const x=sx(v);tick(x,box.y,x,box.y+tl/2,1.5);tick(x,box.y+box.h,x,box.y+box.h-tl/2,1.5);});
  yMaj.forEach(v=>{const y=sy(v);tick(box.x,y,box.x+tl,y,2);tick(box.x+box.w,y,box.x+box.w-tl,y,2);});
  yMin.forEach(v=>{const y=sy(v);tick(box.x,y,box.x+tl/2,y,1.5);tick(box.x+box.w,y,box.x+box.w-tl/2,y,1.5);});
  mk('rect',{x:box.x,y:box.y,width:box.w,height:box.h,fill:'none',stroke:'#000','stroke-width':2.4},'axes-frame',g);
}
function steps(lim,step,major){
  const out=[];
  for(let v=-Math.floor(lim/step)*step;v<=lim+1e-6;v+=step){
    if(major.indexOf(Math.round(v*100)/100)<0) out.push(v);
  }
  return out;
}
function pts(p,sx,sy){
  const a=[];
  for(let i=0;i<p.length;i+=2) a.push(sx(p[i]).toFixed(1)+','+sy(p[i+1]).toFixed(1));
  return a.join(' ');
}
function polygon(o,fill,g,sx,sy){
  mk('polygon',{points:pts(o,sx,sy),fill,stroke:fill,'stroke-width':.4},'voronoi-bin',g);
}
function drawMap(box,gal,cmap,layer,showX,isLeft,tickGap){
  const lim=gal.lim;
  const sx=x=>box.x+(x+lim)/(2*lim)*box.w, sy=y=>box.y+(lim-y)/(2*lim)*box.h;
  const g=mk('g',{},'map-panel');
  if(layer.outlines) layer.outlines.forEach((o,i)=>polygon(o,cmap(layer.vals[i]),g,sx,sy));
  if(layer.extra) layer.extra.forEach(o=>polygon(o.slice(1),cmap(o[0]),g,sx,sy));
  if(layer.rows){
    const gd=layer.grid,pxw=gd.d/(2*lim)*box.w,pxh=gd.d/(2*lim)*box.h;
    layer.rows.forEach(row=>{
      const r=row[0],c=row[1];
      row.slice(2).forEach((v,i)=>{
        if(v===null) return;
        mk('rect',{x:sx(gd.x0+(c+i)*gd.d),y:sy(gd.y0-r*gd.d),width:pxw+.4,height:pxh+.4,fill:cmap(v)},'map-cell',g);
      });
    });
  }
  if(layer.spots) layer.spots.forEach(s=>{
    mk('rect',{x:sx(s[0]-.8),y:sy(s[1]+.8),width:1.6/(2*lim)*box.w,height:1.6/(2*lim)*box.h,fill:cmap(s[2])},'map-spot',g);
  });
  if(layer.holes) layer.holes.forEach(h=>{
    const k=h[2];
    mk('polygon',{points:[[h[0]-k,h[1]],[h[0],h[1]+k*1.2],[h[0]+k,h[1]],[h[0],h[1]-k*1.2]].map(p=>sx(p[0])+','+sy(p[1])).join(' '),fill:'#fff'},'map-hole',g);
  });
  if(layer.cores) layer.cores.forEach(e=>{
    const cx=sx(e[0]),cy=sy(e[1]);
    mk('ellipse',{cx,cy,rx:e[2]/(2*lim)*box.w,ry:e[3]/(2*lim)*box.h,transform:'rotate('+e[4]+' '+cx+' '+cy+')',fill:cmap(e[5])},'map-core',g);
  });
  gal.polys.forEach(p=>{
    mk('polyline',{points:pts(p,sx,sy),fill:'none',stroke:'#8c8c8c','stroke-width':1,opacity:.9},'isophote-contour',g);
  });
  gal.ells.forEach(e=>{
    const cx=sx(e[0]),cy=sy(e[1]);
    mk('ellipse',{cx,cy,rx:e[2]/(2*lim)*box.w,ry:e[3]/(2*lim)*box.h,transform:'rotate('+e[4]+' '+cx+' '+cy+')',fill:'none',stroke:'#666','stroke-width':.9,opacity:.75},'isophote-contour',g);
  });
  gal.rings.forEach(r=>{
    mk('circle',{cx:sx(r[0]),cy:sy(r[1]),r:Math.max(.8,r[2]/(2*lim)*box.w),fill:'none',stroke:'#999','stroke-width':r[3]},'psf-ring',g);
  });
  const mx=sx(0),my=sy(0);
  mk('path',{d:'M'+(mx-6.5)+' '+my+'H'+(mx+6.5)+'M'+mx+' '+(my-6.5)+'V'+(my+6.5),stroke:'#008000','stroke-width':3.4,fill:'none'},'centre-cross',g);
  mk('line',{x1:sx(gal.bar[0]),x2:sx(gal.bar[1]),y1:sy(gal.bar[2]),y2:sy(gal.bar[2]),stroke:'#000','stroke-width':3},'scale-bar',g);
  frame(box,sx,sy,gal.xMaj,gal.yMaj,steps(lim,gal.xMinStep,gal.xMaj),steps(lim,gal.yMinStep,gal.yMaj),8,g);
  if(showX) gal.xMaj.forEach(v=>{
    const t=mk('text',{x:sx(v),y:box.y+box.h+tickGap,'text-anchor':'middle',class:'tick'},'x-tick-label',g);
    t.textContent=fmt(v);
  });
  if(isLeft) gal.yMaj.forEach(v=>{
    const t=mk('text',{x:box.x-7,y:sy(v)+6,'text-anchor':'end',class:'tick'},'y-tick-label',g);
    t.textContent=fmt(v);
  });
}
function colorbar(x,y,w,h,fn,name){
  const g=mk('g',{},name);
  const n=128;
  for(let i=0;i<n;i++){
    mk('rect',{x:x+i*w/n,y,width:w/n+.5,height:h,fill:fn((i+.5)/n)},'colorbar-step',g);
  }
  mk('rect',{x,y,width:w,height:h,fill:'none',stroke:'#000','stroke-width':2},'colorbar-frame',g);
  return g;
}
function topTick(g,x,y,len,w){mk('line',{x1:x,x2:x,y1:y,y2:y-len,stroke:'#000','stroke-width':w},'colorbar-tick',g);}
function topLabel(g,x,y,s){const t=mk('text',{x,y,'text-anchor':'middle',class:'tick'},'colorbar-tick-label',g);t.textContent=s;return t;}

function drawColorbars(off,velR,velTicks){
  const y=90+off,h=13;
  const g1=colorbar(CB.v[0],y,CB.v[1],h,velT,'velocity-colorbar');
  velTicks.forEach(v=>{const x=CB.v[0]+(v+velR)/(2*velR)*CB.v[1];topTick(g1,x,y,4,1.6);topLabel(g1,x,y-10,fmt(v));});
  const g2=colorbar(CB.s[0],y,CB.s[1],h,rainbowT,'sigma-colorbar');
  sigmaTicks.forEach(v=>{const x=CB.s[0]+v/250*CB.s[1];topTick(g2,x,y,4,1.6);topLabel(g2,x,y-10,fmt(v));});
  const g3=colorbar(CB.f[0],y,CB.f[1],h,fluxT,'flux-colorbar');
  const fx=e=>CB.f[0]+(e-FLUX_MIN)/FLUX_SPAN*CB.f[1];
  fluxExponents.forEach(e=>{
    const x=fx(e);topTick(g3,x,y,5,1.6);
    const t=topLabel(g3,x,y-10,'10');
    const sup=document.createElementNS(NS,'tspan');
    sup.setAttribute('dy','-6');sup.setAttribute('font-size','12.5');
    sup.textContent=fmt(e);
    t.appendChild(sup);
    if(e<2) for(let m=2;m<10;m++) topTick(g3,fx(e+Math.log10(m)),y,3,1.1);
  });
  topTick(g3,fx(2+Math.log10(2)),y,3,1.1);
}
function drawClassBar(off){
  const x=CLASSBAR_X,w=12,y=MAPBOX.y+off,h=MAPBOX.h;
  const g=mk('g',{},'class-colorbar');
  for(let i=0;i<4;i++){
    mk('rect',{x,y:y+h*(3-i)/4,width:w,height:h/4+.3,fill:classColors[i]},'class-colorbar-segment',g);
    mk('line',{x1:x+w,x2:x+w+5,y1:y+h*(3-i+.5)/4,y2:y+h*(3-i+.5)/4,stroke:'#000','stroke-width':1.6},'colorbar-tick',g);
  }
  mk('rect',{x,y,width:w,height:h,fill:'none',stroke:'#000','stroke-width':2.2},'colorbar-frame',g);
}
function drawBPT(off,rows){
  const box={x:BPTBOX.x,y:BPTBOX.y+off,w:BPTBOX.w,h:BPTBOX.h};
  const XMIN=-1.6,XMAX=.455,YMIN=-1,YMAX=1.6;
  const sx=x=>box.x+(x-XMIN)/(XMAX-XMIN)*box.w, sy=y=>box.y+(YMAX-y)/(YMAX-YMIN)*box.h;
  const kauff=x=>.61/(x-.05)+1.3, kewley=x=>.61/(x-.47)+1.19, liner=x=>1.89*x+.33;
  const clampY=y=>Math.max(YMIN,Math.min(YMAX,y));
  const g=mk('g',{},'bpt-diagram');
  mk('rect',{x:box.x,y:box.y,width:box.w,height:box.h,fill:'#ffcccc'},'agn-region',g);
  let p=[];
  for(let x=-.1;x<=.2;x+=.01) p.push(sx(x)+','+sy(clampY(kewley(x))));
  p.push(sx(XMAX)+','+sy(YMIN));p.push(sx(XMAX)+','+sy(liner(XMAX)));
  mk('polygon',{points:p.join(' '),fill:'#ccf2f2'},'liner-region',g);
  p=[];
  const XK=.47+.61/(YMIN-1.19);
  for(let x=XMIN;x<=XK;x+=.01) p.push(sx(x)+','+sy(clampY(kewley(x))));
  p.push(sx(XK)+','+sy(YMIN));
  p.push(sx(XMIN)+','+sy(YMIN));
  mk('polygon',{points:p.join(' '),fill:'#cce5cc'},'inter-region',g);
  p=[sx(XMIN)+','+sy(YMIN)];
  const XS=.05+.61/(YMIN-1.3);
  for(let x=XMIN;x<=XS;x+=.01) p.push(sx(x)+','+sy(clampY(kauff(x))));
  p.push(sx(XS)+','+sy(YMIN));
  mk('polygon',{points:p.join(' '),fill:'#ccccff'},'sf-region',g);
  let d=[];
  for(let x=XMIN;x<=XS;x+=.01) d.push(sx(x).toFixed(1)+','+sy(kauff(x)).toFixed(1));
  mk('polyline',{points:d.join(' '),fill:'none',stroke:'#000','stroke-width':2.2},'kauffmann-line',g);
  d=[];
  for(let x=XMIN;x<=XK;x+=.01) d.push(sx(x).toFixed(1)+','+sy(kewley(x)).toFixed(1));
  mk('polyline',{points:d.join(' '),fill:'none',stroke:'#000','stroke-width':2.2,'stroke-dasharray':'8 3'},'kewley-line',g);
  mk('line',{x1:sx(-.1),y1:sy(liner(-.1)),x2:sx(XMAX),y2:sy(liner(XMAX)),stroke:'#000','stroke-width':2.2,'stroke-dasharray':'2 3'},'liner-line',g);
  rows.forEach(row=>{
    row.slice(1).forEach(x=>{
      mk('circle',{cx:sx(x),cy:sy(row[0]),r:1.7,fill:'#000'},'spaxel-point',g);
    });
  });
  const mnx=[],mny=[];
  for(let v=-1.5;v<=.41;v+=.1) if(bptXTicks.indexOf(Math.round(v*10)/10)<0) mnx.push(v);
  for(let v=-.9;v<=1.55;v+=.1) if(bptYTicks.indexOf(Math.round(v*10)/10)<0) mny.push(v);
  frame(box,sx,sy,bptXTicks,bptYTicks,mnx,mny,8,g);
  bptXTicks.forEach(v=>{
    const t=mk('text',{x:sx(v),y:box.y+box.h+16,'text-anchor':'middle',class:'tick'},'bpt-x-tick-label',g);
    t.textContent=fmt1(v);
  });
  bptYTicks.forEach(v=>{
    const t=mk('text',{x:box.x-5,y:sy(v)+6,'text-anchor':'end',class:'tick'},'bpt-y-tick-label',g);
    t.textContent=fmt1(v);
  });
}

/* ---------- galaxy settings ---------- */
const gal1={lim:14,xMaj:[-10,0,10],yMaj:[-10,-5,0,5,10],xMinStep:2,yMinStep:1,polys:contoursPoly1,ells:contoursEll1,rings:rings1,bar:[-12.25,-7.45,-11]};
const gal2={lim:18,xMaj:[-10,0,10],yMaj:[-10,0,10],xMinStep:2,yMinStep:2,polys:contoursPoly2,ells:contoursEll2,rings:rings2,bar:[-16.3,-11.3,-15]};
const gal3={lim:32,xMaj:[-20,0,20],yMaj:[-20,0,20],xMinStep:5,yMinStep:5,polys:contoursPoly3,ells:contoursEll3,rings:rings3,bar:[-30.4,-24.3,-28.6]};

function box(i,r,off){return {x:COLS[i],y:ROWS[r]+off,w:PW,h:PH};}
function mapBox(off){return {x:MAPBOX.x,y:MAPBOX.y+off,w:MAPBOX.w,h:MAPBOX.h};}
const LT=17.5,RT=17;

/* HE2222-0026 */
drawColorbars(CBOFFS[0],150,velTicksA);
drawMap(box(0,0,0),gal1,velMap(150),{outlines:outlines1,vals:starVel1},false,true,LT);
drawMap(box(1,0,0),gal1,sigMap,{outlines:outlines1,vals:starSig1,extra:starSigExtra1,cores:starSigCore1},false,false,LT);
drawMap(box(2,0,0),gal1,fluxMap,{rows:halpha1,grid:grid1,cores:halphaCore1},false,false,LT);
drawMap(box(0,1,0),gal1,velMap(150),{rows:gasVel1,grid:grid1},true,true,LT);
drawMap(box(1,1,0),gal1,sigMap,{rows:gasSig1,grid:grid1,cores:gasSigCore1},true,false,LT);
drawMap(box(2,1,0),gal1,fluxMap,{rows:oiii1,grid:grid1,cores:oiiiCore1},true,false,LT);
drawBPT(BPTOFFS[0],bptRows1);
drawMap(mapBox(OFFS[0]),gal1,classMap,{rows:classes1,grid:grid1},true,true,RT);
drawClassBar(OFFS[0]);

/* HE2233+0124 */
const o2=OFFS[1];
drawColorbars(CBOFFS[1],220,velTicksB);
drawMap(box(0,0,o2),gal2,velMap(220),{outlines:outlines2,vals:starVel2},false,true,LT);
drawMap(box(1,0,o2),gal2,sigMap,{outlines:outlines2,vals:starSig2,cores:starSigCore2},false,false,LT);
drawMap(box(2,0,o2),gal2,fluxMap,{rows:halpha2,grid:grid2,cores:halphaCore2},false,false,LT);
drawMap(box(0,1,o2),gal2,velMap(220),{rows:gasVel2,grid:grid2},true,true,LT);
drawMap(box(1,1,o2),gal2,sigMap,{rows:gasSig2,grid:grid2,cores:gasSigCore2},true,false,LT);
drawMap(box(2,1,o2),gal2,fluxMap,{rows:oiii2,grid:grid2,cores:oiiiCore2},true,false,LT);
drawBPT(BPTOFFS[1],bptRows2);
drawMap(mapBox(o2),gal2,classMap,{rows:classes2,grid:grid2},true,true,RT);
drawClassBar(o2);

/* HE2302-0857 */
const o3=OFFS[2];
drawColorbars(CBOFFS[2],220,velTicksB);
drawMap(box(0,0,o3),gal3,velMap(220),{rows:starVel3,grid:starGrid3,holes:starHoles3},false,true,LT);
drawMap(box(1,0,o3),gal3,sigMap,{rows:starSig3,grid:starGrid3,holes:starHoles3},false,false,LT);
drawMap(box(2,0,o3),gal3,fluxMap,{rows:halpha3,grid:grid3,spots:halphaSpots3,cores:halphaCore3},false,false,LT);
drawMap(box(0,1,o3),gal3,velMap(220),{rows:gasVel3,grid:grid3,spots:gasVelSpots3},true,true,LT);
drawMap(box(1,1,o3),gal3,sigMap,{rows:gasSig3,grid:grid3,spots:gasSigSpots3,cores:gasSigCore3},true,false,LT);
drawMap(box(2,1,o3),gal3,fluxMap,{rows:oiii3,grid:grid3,spots:oiiiSpots3,cores:oiiiCore3},true,false,LT);
drawBPT(BPTOFFS[2],bptRows3);
drawMap(mapBox(o3),gal3,classMap,{rows:classes3,grid:grid3,spots:classSpots3},true,true,RT);
drawClassBar(o3);
</script>
</body>
</html>
